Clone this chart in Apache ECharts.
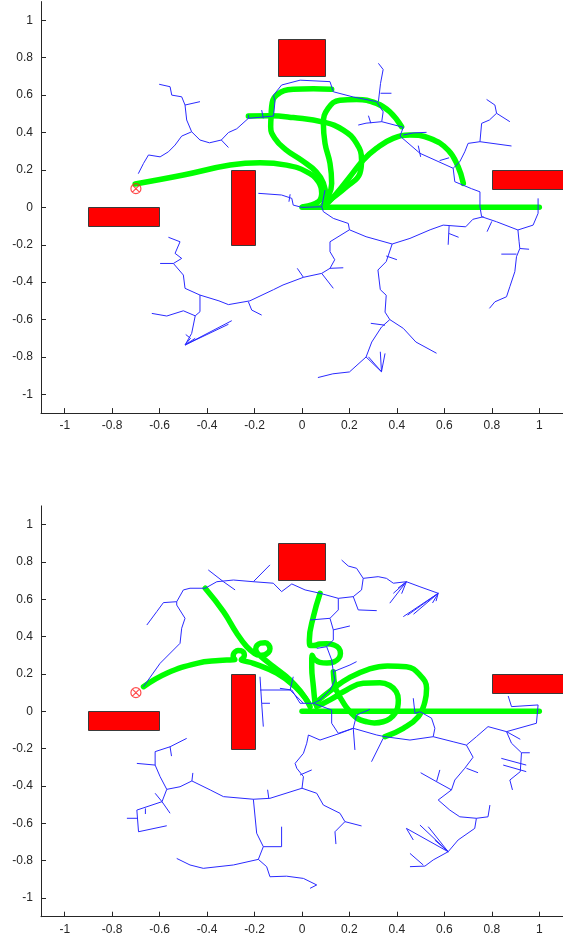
<!DOCTYPE html>
<html><head><meta charset="utf-8">
<script src="https://cdn.jsdelivr.net/npm/echarts@6/dist/echarts.min.js"></script>
<style>html,body{margin:0;padding:0;background:#fff}#c{width:563px;height:943px}</style>
</head><body><div id="c"></div>
<script>
const xTicks = [-1,-0.8,-0.6,-0.4,-0.2,0,0.2,0.4,0.6,0.8,1];
const yTicks = [-1,-0.8,-0.6,-0.4,-0.2,0,0.2,0.4,0.6,0.8,1];
// obstacles: [x1, y1, x2, y2]
const obstacles = [[-0.9,-0.1,-0.6,0],[-0.3,-0.2,-0.2,0.2],[-0.1,0.7,0.1,0.9],[0.8,0.1,1.2,0.2]];
const target = [-0.7,0.1];

const topTree = [
 [[-0.226,0.494],[-0.226,0.476],[-0.12,0.488],[-0.114,0.565],[-0.12,0.60],[-0.086,0.654],[-0.008,0.68],[0.118,0.672],[0.132,0.618],[0.216,0.59],[0.315,0.565],[0.342,0.511],[0.336,0.458],[0.427,0.428],[0.413,0.381],[0.497,0.289],[0.637,0.209],[0.644,0.137],[0.714,0.1],[0.75,0.083],[0.75,0.003],[0.757,-0.05],[0.82,-0.077],[0.91,-0.121],[0.974,-0.095],[0.995,-0.032],[0.995,0.048]],
 [[-0.226,0.476],[-0.275,0.42],[-0.31,0.40],[-0.34,0.36],[-0.39,0.345],[-0.43,0.36],[-0.465,0.404],[-0.507,0.381],[-0.535,0.333],[-0.563,0.297],[-0.598,0.27],[-0.647,0.28],[-0.668,0.235],[-0.69,0.18]],
 [[-0.465,0.404],[-0.486,0.467],[-0.493,0.547],[-0.507,0.591],[-0.549,0.6],[-0.556,0.645],[-0.602,0.658]],
 [[-0.493,0.547],[-0.43,0.565]],
 [[-0.34,0.36],[-0.31,0.32]],
 [[-0.17,0.52],[-0.163,0.476]],
 [[0.322,0.77],[0.342,0.737],[0.331,0.663],[0.322,0.565]],
 [[0.331,0.61],[0.377,0.61]],
 [[0.336,0.458],[0.27,0.45],[0.237,0.44]],
 [[0.28,0.49],[0.29,0.45]],
 [[0.778,0.577],[0.813,0.547],[0.82,0.503],[0.876,0.458]],
 [[0.82,0.503],[0.79,0.467],[0.757,0.449],[0.75,0.351],[0.883,0.328]],
 [[0.75,0.351],[0.7,0.342],[0.686,0.297],[0.665,0.244],[0.637,0.209]],
 [[0.427,0.387],[0.469,0.398],[0.525,0.401]],
 [[0.49,0.33],[0.5,0.27]],
 [[0.58,0.25],[0.62,0.265]],
 [[0.91,-0.121],[0.915,-0.184],[0.918,-0.22],[0.904,-0.264],[0.897,-0.344],[0.876,-0.424],[0.862,-0.478],[0.813,-0.505],[0.79,-0.54]],
 [[0.904,-0.25],[0.84,-0.25]],
 [[0.918,-0.22],[0.957,-0.224]],
 [[0.765,-0.05],[0.72,-0.064],[0.69,-0.104],[0.595,-0.095],[0.54,-0.12],[0.455,-0.166],[0.38,-0.196]],
 [[0.62,-0.1],[0.616,-0.2]],
 [[0.62,-0.14],[0.66,-0.16]],
 [[0.8,-0.075],[0.78,-0.13]],
 [[0.0,0.0],[0.083,0.003],[0.09,-0.023],[0.132,-0.059],[0.195,-0.086],[0.2,-0.12],[0.27,-0.157],[0.38,-0.196]],
 [[0.083,0.003],[0.097,0.092]],
 [[0,0],[-0.037,0.012],[-0.043,0.048],[-0.086,0.066],[-0.184,0.075]],
 [[-0.05,0.07],[-0.055,0.03]],
 [[0.38,-0.196],[0.355,-0.29],[0.32,-0.335],[0.33,-0.44],[0.355,-0.47],[0.35,-0.56],[0.37,-0.6],[0.427,-0.647],[0.48,-0.72],[0.567,-0.78]],
 [[0.37,-0.6],[0.335,-0.64],[0.294,-0.72],[0.27,-0.8],[0.2,-0.88],[0.13,-0.89],[0.067,-0.91]],
 [[0.27,-0.8],[0.335,-0.879],[0.33,-0.772]],
 [[0.335,-0.879],[0.35,-0.781]],
 [[0.335,-0.879],[0.28,-0.799]],
 [[0.355,-0.26],[0.4,-0.28]],
 [[0.35,-0.63],[0.29,-0.62]],
 [[0.2,-0.12],[0.118,-0.184],[0.118,-0.237],[0.138,-0.28],[0.118,-0.326],[0.083,-0.353],[0.006,-0.374],[-0.08,-0.415],[-0.12,-0.44],[-0.22,-0.5],[-0.31,-0.52],[-0.35,-0.5],[-0.43,-0.469],[-0.493,-0.433],[-0.5,-0.362],[-0.542,-0.3],[-0.507,-0.273],[-0.535,-0.246],[-0.514,-0.184],[-0.563,-0.16]],
 [[-0.542,-0.3],[-0.598,-0.3]],
 [[-0.43,-0.469],[-0.43,-0.558],[-0.45,-0.58],[-0.465,-0.674],[-0.493,-0.736]],
 [[-0.493,-0.736],[-0.296,-0.606]],
 [[-0.493,-0.736],[-0.31,-0.625]],
 [[-0.493,-0.736],[-0.45,-0.7]],
 [[-0.493,-0.736],[-0.47,-0.7],[-0.49,-0.68]],
 [[-0.45,-0.58],[-0.5,-0.553],[-0.57,-0.581],[-0.633,-0.567]],
 [[-0.226,-0.505],[-0.212,-0.549],[-0.17,-0.576]],
 [[0.083,-0.353],[0.132,-0.433]],
 [[0.118,-0.326],[0.174,-0.323]],
 [[0.006,-0.374],[-0.02,-0.326]]
];

const topPaths = [
 [[-0.703,0.125],[-0.5,0.173],[-0.303,0.226],[-0.177,0.239],[-0.065,0.226],[0.02,0.19],[0.069,0.137],[0.083,0.075],[0.069,0.03],[0.006,0.003]],
 [[0,0],[1.0,0]],
 [[-0.226,0.488],[-0.135,0.49],[-0.037,0.48],[0.09,0.456],[0.174,0.413],[0.23,0.342],[0.251,0.253],[0.244,0.182],[0.188,0.11],[0.118,0.039],[0.09,0.012]],
 [[-0.13,0.49],[-0.132,0.431],[-0.115,0.37],[-0.07,0.31],[0.0,0.25],[0.06,0.19],[0.09,0.13],[0.1,0.06],[0.09,0.012]],
 [[-0.13,0.49],[-0.128,0.538],[-0.107,0.6],[-0.037,0.631],[0.048,0.634],[0.125,0.631]],
 [[0.42,0.431],[0.37,0.511],[0.314,0.556],[0.23,0.577],[0.16,0.573],[0.11,0.529],[0.09,0.449],[0.097,0.342],[0.118,0.235],[0.125,0.128],[0.104,0.039],[0.09,0.012]],
 [[0.68,0.128],[0.658,0.217],[0.616,0.306],[0.539,0.369],[0.455,0.387],[0.384,0.369],[0.314,0.316],[0.258,0.253],[0.202,0.164],[0.146,0.075],[0.1,0.012]]
];

const botTree = [
 [[-0.668,0.132],[-0.598,0.257],[-0.514,0.364],[-0.507,0.445],[-0.493,0.498],[-0.528,0.569],[-0.528,0.587]],
 [[-0.528,0.587],[-0.584,0.582],[-0.612,0.534],[-0.654,0.462]],
 [[-0.528,0.587],[-0.5,0.65],[-0.472,0.659],[-0.408,0.659],[-0.359,0.694],[-0.289,0.703],[-0.205,0.694],[-0.121,0.686],[-0.086,0.641],[-0.043,0.682],[0.013,0.65],[0.076,0.632],[0.153,0.605],[0.216,0.614],[0.251,0.65],[0.258,0.712],[0.23,0.766],[0.195,0.778],[0.167,0.81]],
 [[0.258,0.712],[0.321,0.721],[0.356,0.712],[0.385,0.686],[0.44,0.694],[0.497,0.667],[0.574,0.632]],
 [[0.44,0.694],[0.37,0.579]],
 [[0.44,0.694],[0.385,0.632]],
 [[0.44,0.694],[0.42,0.63]],
 [[0.44,0.694],[0.405,0.66]],
 [[0.574,0.632],[0.427,0.507]],
 [[0.574,0.632],[0.445,0.515]],
 [[0.574,0.632],[0.47,0.52]],
 [[0.574,0.632],[0.55,0.58]],
 [[0.574,0.632],[0.565,0.59]],
 [[0.216,0.614],[0.237,0.543],[0.315,0.539]],
 [[-0.395,0.757],[-0.331,0.694],[-0.282,0.65]],
 [[-0.205,0.694],[-0.135,0.784]],
 [[0.153,0.605],[0.153,0.543],[0.118,0.498],[0.132,0.436],[0.132,0.382],[0.104,0.346],[0.062,0.337]],
 [[0.132,0.436],[0.202,0.457]],
 [[0.118,0.498],[0.034,0.489]],
 [[0.104,0.346],[0.125,0.275],[0.132,0.212],[0.139,0.168],[0.118,0.114],[0.076,0.061],[0.048,0.043]],
 [[0.132,0.212],[0.202,0.248],[0.23,0.266]],
 [[-0.177,0.185],[-0.17,0.043],[-0.163,-0.082]],
 [[-0.177,0.114],[-0.05,0.114],[0.006,0.043]],
 [[-0.05,0.114],[-0.037,0.185]],
 [[-0.17,0.043],[-0.135,0.043]],
 [[-0.093,0.123],[-0.043,0.114],[-0.008,0.043],[0.048,0.043]],
 [[0.048,0.043],[0.125,0.007],[0.125,-0.064],[0.153,-0.118],[0.216,-0.091],[0.315,-0.127],[0.35,-0.136],[0.455,-0.154],[0.553,-0.136],[0.637,-0.163],[0.693,-0.181]],
 [[0.693,-0.181],[0.735,-0.136],[0.784,-0.082],[0.862,-0.109],[0.988,-0.064],[0.995,0.034]],
 [[0.995,0.034],[0.883,0.025],[0.869,0.082]],
 [[0.862,-0.109],[0.883,-0.171],[0.925,-0.222],[0.92,-0.323],[0.876,-0.368],[0.887,-0.421]],
 [[0.925,-0.222],[0.96,-0.222]],
 [[0.84,-0.252],[0.945,-0.288]],
 [[0.848,-0.288],[0.945,-0.323]],
 [[0.862,-0.109],[0.92,-0.15]],
 [[0.693,-0.181],[0.721,-0.246],[0.686,-0.305],[0.644,-0.368],[0.63,-0.421],[0.574,-0.475],[0.623,-0.529],[0.665,-0.565],[0.735,-0.573],[0.784,-0.565],[0.792,-0.502]],
 [[0.693,-0.305],[0.742,-0.329]],
 [[0.735,-0.573],[0.728,-0.627],[0.658,-0.689],[0.616,-0.752],[0.553,-0.796],[0.518,-0.829],[0.455,-0.832]],
 [[0.616,-0.752],[0.44,-0.627],[0.469,-0.689]],
 [[0.616,-0.752],[0.497,-0.609]],
 [[0.616,-0.752],[0.532,-0.618]],
 [[0.616,-0.752],[0.56,-0.69]],
 [[0.455,-0.761],[0.511,-0.823]],
 [[0.63,-0.421],[0.567,-0.377],[0.5,-0.329]],
 [[0.567,-0.377],[0.581,-0.314]],
 [[0.469,0.07],[0.476,-0.011],[0.497,-0.002],[0.546,-0.037],[0.56,-0.091],[0.553,-0.136]],
 [[0.286,0.01],[0.23,-0.02],[0.216,-0.091]],
 [[0.216,-0.091],[0.16,-0.118],[0.076,-0.154],[0.027,-0.127],[0.02,-0.171],[0.006,-0.225],[-0.029,-0.279],[-0.022,-0.305],[0.006,-0.35],[0,-0.412]],
 [[-0.008,-0.341],[0.041,-0.314]],
 [[0.216,-0.091],[0.223,-0.207]],
 [[0.342,-0.145],[0.293,-0.27]],
 [[0,-0.412],[-0.135,-0.466],[-0.205,-0.471],[-0.331,-0.457],[-0.387,-0.421],[-0.464,-0.373],[-0.514,-0.404],[-0.57,-0.418],[-0.598,-0.35],[-0.619,-0.288],[-0.619,-0.216],[-0.556,-0.19],[-0.486,-0.145]],
 [[-0.619,-0.288],[-0.696,-0.279]],
 [[-0.556,-0.19],[-0.55,-0.24]],
 [[-0.464,-0.373],[-0.46,-0.33]],
 [[-0.14,-0.466],[-0.145,-0.42]],
 [[-0.57,-0.418],[-0.59,-0.484],[-0.696,-0.529],[-0.689,-0.645],[-0.57,-0.613]],
 [[-0.59,-0.484],[-0.556,-0.546]],
 [[-0.59,-0.484],[-0.619,-0.439]],
 [[-0.692,-0.573],[-0.738,-0.573]],
 [[-0.66,-0.52],[-0.66,-0.55]],
 [[-0.205,-0.471],[-0.191,-0.653],[-0.163,-0.725],[-0.086,-0.725],[-0.086,-0.618]],
 [[-0.163,-0.725],[-0.184,-0.793],[-0.289,-0.823],[-0.416,-0.841],[-0.472,-0.823],[-0.528,-0.788]],
 [[-0.184,-0.793],[-0.149,-0.832],[-0.135,-0.886],[-0.065,-0.883],[0.006,-0.895],[0.062,-0.93],[0.034,-0.948]],
 [[0,-0.412],[0.062,-0.439],[0.09,-0.502],[0.16,-0.546],[0.181,-0.591],[0.251,-0.614]],
 [[0.181,-0.591],[0.139,-0.645],[0.143,-0.711]]
];

const botPaths = [
 [[-0.668,0.132],[-0.57,0.204],[-0.443,0.257],[-0.35,0.272],[-0.29,0.276],[-0.283,0.278],[-0.29,0.29],[-0.289,0.305],[-0.282,0.318],[-0.27,0.325],[-0.257,0.324],[-0.246,0.315],[-0.243,0.3],[-0.247,0.287],[-0.256,0.276],[-0.245,0.27],[-0.205,0.257],[-0.107,0.204],[-0.029,0.132],[0.02,0.06],[0.034,0.025]],
 [[-0.408,0.659],[-0.331,0.534],[-0.275,0.418],[-0.233,0.346],[-0.2,0.31],[-0.18,0.3],[-0.16,0.302],[-0.142,0.315],[-0.135,0.335],[-0.14,0.355],[-0.155,0.367],[-0.175,0.365],[-0.19,0.352],[-0.195,0.333],[-0.188,0.312],[-0.17,0.29],[-0.12,0.239],[-0.05,0.168],[0,0.096],[0.027,0.043]],
 [[0.076,0.632],[0.048,0.507],[0.031,0.382],[0.035,0.352],[0.05,0.352],[0.075,0.36],[0.105,0.362],[0.135,0.355],[0.155,0.338],[0.162,0.31],[0.155,0.283],[0.135,0.265],[0.105,0.258],[0.075,0.262],[0.052,0.28],[0.043,0.3],[0.041,0.26],[0.041,0.239],[0.048,0.132],[0.055,0.043]],
 [[0.055,0.043],[0.13,0.12],[0.2,0.18],[0.28,0.225],[0.36,0.243],[0.44,0.239],[0.497,0.194],[0.525,0.123],[0.518,0.051],[0.49,-0.029],[0.427,-0.091],[0.35,-0.136]],
 [[0.062,0.025],[0.118,0.061],[0.188,0.114],[0.258,0.15],[0.328,0.153],[0.37,0.138],[0.397,0.105],[0.406,0.061],[0.403,0.02],[0.392,-0.011],[0.37,-0.04],[0.342,-0.056],[0.305,-0.062],[0.272,-0.056],[0.235,-0.04],[0.209,-0.011],[0.185,0.025],[0.167,0.061],[0.15,0.1],[0.139,0.132],[0.132,0.212]],
 [[0,0],[1.0,0]]
];

const chart = echarts.init(document.getElementById('c'), null, {renderer:'canvas'});
const axisColor = '#262626';
function xAx(i){return {gridIndex:i,type:'value',min:-1.1,max:1.1,splitLine:{show:false},
  axisLine:{onZero:false,lineStyle:{color:axisColor,width:1}},
  axisTick:{inside:true,length:5,customValues:xTicks,lineStyle:{color:axisColor}},
  axisLabel:{customValues:xTicks,margin:7,color:'#262626',fontSize:12,fontFamily:'Liberation Sans, Arial, sans-serif'}};}
function yAx(i){return {gridIndex:i,type:'value',min:-1.1,max:1.1,splitLine:{show:false},
  axisLine:{onZero:false,lineStyle:{color:axisColor,width:1}},
  axisTick:{inside:true,length:5,customValues:yTicks,lineStyle:{color:axisColor}},
  axisLabel:{customValues:yTicks,margin:8,color:'#262626',fontSize:12,fontFamily:'Liberation Sans, Arial, sans-serif'}};}

const markerPath = 'path://M0,-5A5,5,0,1,1,0,5A5,5,0,1,1,0,-5ZM-3.5,-3.5L3.5,3.5M3.5,-3.5L-3.5,3.5';
const series = [];
[[topTree,topPaths],[botTree,botPaths]].forEach(([tree,paths],i)=>{
  paths.forEach(p=>{
    series.push({type:'line',xAxisIndex:i,yAxisIndex:i,data:p,smooth:0.45,showSymbol:false,silent:true,z:2,
      clip:false,lineStyle:{color:'#00ff00',width:5.5,cap:'round',join:'round'}});
  });
  series.push({type:'lines',coordinateSystem:'cartesian2d',xAxisIndex:i,yAxisIndex:i,polyline:true,silent:true,z:3,
    lineStyle:{color:'#2a2aff',width:1,opacity:1},
    data:tree.map(p=>({coords:p}))});
  series.push({type:'custom',xAxisIndex:i,yAxisIndex:i,z:4,silent:true,clip:false,
    data:obstacles,
    renderItem:function(params,api){
      const p1=api.coord([api.value(0),api.value(3)]);
      const p2=api.coord([api.value(2),api.value(1)]);
      return {type:'rect',shape:{x:Math.round(p1[0])+0.5,y:Math.round(p1[1])+0.5,width:Math.round(p2[0]-p1[0]),height:Math.round(p2[1]-p1[1])},
        style:{fill:'#ff0000',stroke:'#3a3a3a',lineWidth:1}};
    }});
  series.push({type:'scatter',xAxisIndex:i,yAxisIndex:i,z:5,silent:true,symbol:markerPath,symbolSize:10,
    itemStyle:{color:'rgba(0,0,0,0)',borderColor:'#ff2020',borderWidth:1.2},
    data:[target]});
});

chart.setOption({
  animation:false,
  backgroundColor:'#ffffff',
  grid:[{left:41,top:1.6,width:522,height:411.5},{left:41,top:505.9,width:522,height:410.8}],
  xAxis:[xAx(0),xAx(1)],
  yAxis:[yAx(0),yAx(1)],
  series:series
});
</script></body></html>
